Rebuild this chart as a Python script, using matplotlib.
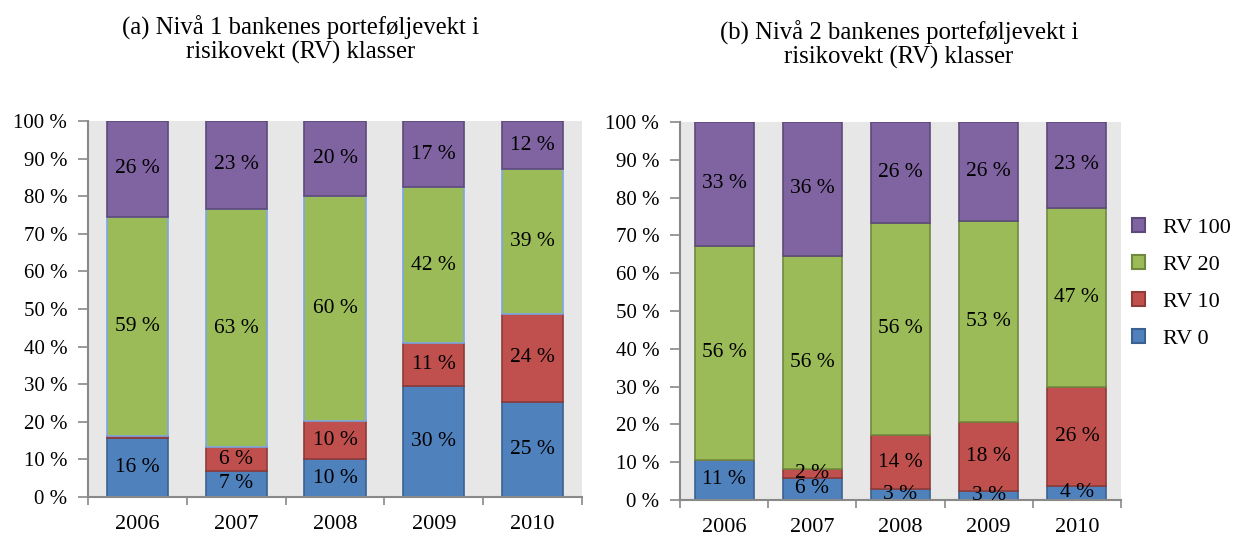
import matplotlib
matplotlib.use("Agg")
import matplotlib.pyplot as plt
from matplotlib.patches import Patch
from matplotlib.ticker import FixedLocator

plt.rcParams['font.family'] = ['Liberation Serif', 'DejaVu Serif']

years = ['2006', '2007', '2008', '2009', '2010']
series = ['RV 0', 'RV 10', 'RV 20', 'RV 100']

# panel (a): share of portfolio per risk weight
a_rv0 = [15.7, 7.0, 10.0, 29.6, 25.2]
a_rv10 = [0.4, 6.2, 10.3, 11.3, 23.6]
a_rv20 = [58.4, 63.4, 59.8, 41.5, 38.4]
a_rv100 = [25.5, 23.4, 19.9, 17.6, 12.8]
a_lab0 = ['16 %', '7 %', '10 %', '30 %', '25 %']
a_lab10 = ['', '6 %', '10 %', '11 %', '24 %']
a_lab20 = ['59 %', '63 %', '60 %', '42 %', '39 %']
a_lab100 = ['26 %', '23 %', '20 %', '17 %', '12 %']

# panel (b)
b_rv0 = [10.6, 5.9, 2.9, 2.5, 3.8]
b_rv10 = [0.0, 2.4, 14.3, 18.1, 26.2]
b_rv20 = [56.6, 56.3, 56.2, 53.2, 47.3]
b_rv100 = [32.8, 35.4, 26.6, 26.2, 22.7]
b_lab0 = ['11 %', '6 %', '3 %', '3 %', '4 %']
b_lab10 = ['', '2 %', '14 %', '18 %', '26 %']
b_lab20 = ['56 %', '56 %', '56 %', '53 %', '47 %']
b_lab100 = ['33 %', '36 %', '26 %', '26 %', '23 %']

colors = ['#4F81BD', '#C0504D', '#9BBB59', '#8064A2']
edges = ['#3A6190', '#8E3B39', '#71893F', '#5E4A7A']

W, H = 1238, 536
fig = plt.figure(figsize=(W / 100, H / 100), dpi=100)


def panel(rect, vals, labs, width, green_edge):
    ax = fig.add_axes(rect)
    ax.set_facecolor('#E7E7E7')
    x = range(len(years))
    bottom = [0] * len(years)
    for i, (v, lb) in enumerate(zip(vals, labs)):
        ec = green_edge if i == 2 else edges[i]
        bars = ax.bar(x, v, width, bottom=bottom, color=colors[i],
                      edgecolor=ec, linewidth=1.2, zorder=2)
        for b, bt, val, t in zip(bars, bottom, v, lb):
            if t:
                ax.text(b.get_x() + b.get_width() / 2, bt + val / 2, t,
                        ha='center', va='center', fontsize=15.5, zorder=3)
        bottom = [p + q for p, q in zip(bottom, v)]
    ax.set_xlim(-0.5, len(years) - 0.5)
    ax.set_ylim(0, 100)
    ax.set_yticks(range(0, 101, 10))
    ax.set_yticklabels([f'{t} %' for t in range(0, 101, 10)], fontsize=15)
    ax.set_xticks(list(x))
    ax.set_xticklabels(years, fontsize=16)
    ax.xaxis.set_minor_locator(FixedLocator([i - 0.5 for i in range(len(years) + 1)]))
    ax.tick_params(axis='x', which='major', length=0, pad=13)
    ax.tick_params(axis='x', which='minor', length=6, color='#898989', width=1.2)
    ax.tick_params(axis='y', length=7, color='#898989', width=1.2, pad=8)
    for s in ['top', 'right']:
        ax.spines[s].set_visible(False)
    for s in ['left', 'bottom']:
        ax.spines[s].set_color('#898989')
        ax.spines[s].set_linewidth(1.5)
    return ax


panel([88 / W, 39 / H, 494 / W, 376 / H],
      [a_rv0, a_rv10, a_rv20, a_rv100],
      [a_lab0, a_lab10, a_lab20, a_lab100], 0.62, '#7EA6E0')
panel([680 / W, 36 / H, 441 / W, 378 / H],
      [b_rv0, b_rv10, b_rv20, b_rv100],
      [b_lab0, b_lab10, b_lab20, b_lab100], 0.67, edges[2])

fig.text(301 / W, 1 - 40 / H, '(a) Nivå 1 bankenes porteføljevekt i\nrisikovekt (RV) klasser',
         ha='center', va='center', fontsize=17.8, linespacing=1.08)
fig.text(899 / W, 1 - 45 / H, '(b) Nivå 2 bankenes porteføljevekt i\nrisikovekt (RV) klasser',
         ha='center', va='center', fontsize=17.8, linespacing=1.08)

handles = [Patch(facecolor=colors[i], edgecolor=edges[i], linewidth=1.5, label=series[i])
           for i in range(3, -1, -1)]
fig.legend(handles=handles, loc='upper left', bbox_to_anchor=(1132 / W, 1 - 218 / H),
           frameon=False, fontsize=16, handlelength=0.6, handleheight=0.6,
           handletextpad=0.8, labelspacing=0.77, borderpad=0, borderaxespad=0)

fig.savefig('out.png', dpi=100)
